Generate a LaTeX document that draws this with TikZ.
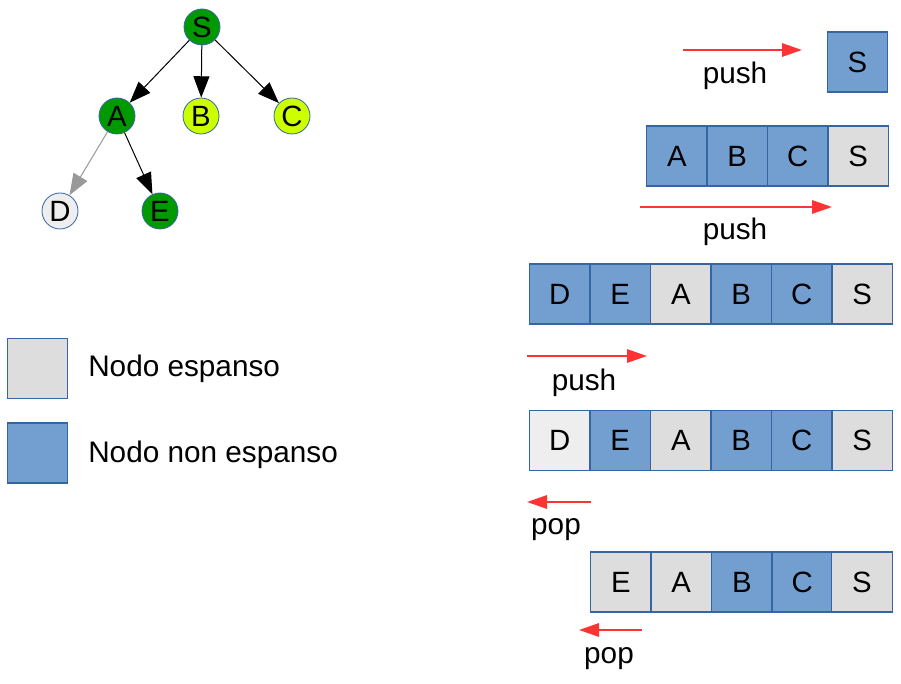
\documentclass[tikz,border=0pt]{standalone}
\usepackage{fontspec}
\setmainfont{Liberation Sans}
\usetikzlibrary{arrows.meta}
\definecolor{dgreen}{HTML}{009900}
\definecolor{ygreen}{HTML}{CCFF00}
\definecolor{lgray}{HTML}{EEEEEE}
\definecolor{cgray}{HTML}{DDDDDD}
\definecolor{cblue}{HTML}{729FCF}
\definecolor{bord}{HTML}{3465A4}
\definecolor{pred}{HTML}{FF3333}
\tikzset{
  tnode/.style={circle,draw=bord,line width=0.6pt,minimum size=27pt,inner sep=0pt,font=\fontsize{22}{24}\selectfont},
  tarrow/.style={line width=0.75pt,-{Triangle[length=16pt,width=12pt]}},
  cell/.style={rectangle,draw=bord,line width=0.8pt,minimum width=45.2pt,minimum height=45pt,inner sep=0pt,font=\fontsize{22}{24}\selectfont},
  ex/.style={cell,fill=cgray},
  ne/.style={cell,fill=cblue},
  lt/.style={cell,fill=lgray},
  parrow/.style={pred,line width=1.5pt,-{Triangle[length=15pt,width=10pt]}},
  lab/.style={font=\fontsize{22.3}{25}\selectfont,inner sep=0pt},
}
\begin{document}
\begin{tikzpicture}[x=0.75pt,y=-0.75pt]
\useasboundingbox (0,0) rectangle (901,684);
% tree
\node[tnode,fill=dgreen] (S) at (202,27) {S};
\node[tnode,fill=dgreen] (A) at (117,116) {A};
\node[tnode,fill=ygreen] (B) at (201,116) {B};
\node[tnode,fill=ygreen] (C) at (292,116) {C};
\node[tnode,fill=lgray] (D) at (60,211) {D};
\node[tnode,fill=dgreen] (E) at (160,211) {E};
\draw[tarrow] (S) -- (A);
\draw[tarrow] (S) -- (B);
\draw[tarrow] (S) -- (C);
\draw[tarrow,draw=black!40,fill=black!40] (A) -- (D);
\draw[tarrow] (A) -- (E);
% legend
\node[ex,minimum width=45.5pt,minimum height=45.5pt] (L1) at (37.5,368.5) {};
\node[ne] (L2) at (37.5,453) {};
\node[lab,anchor=base west] (L1t) at (88,377) {Nodo espanso};
\node[lab,anchor=base west] (L2t) at (88,463) {Nodo non espanso};
% row 1
\node[ne] (r1s) at (857.5,62) {S};
\coordinate (p1a) at (683,50);
\coordinate (p1b) at (802,50);
\draw[parrow] (p1a) -- (p1b);
\node[lab] (p1t) at (735,76) {push};
% row 2
\node[ne] (r2a) at (676.8,156) {A};
\node[ne] (r2b) at (737.2,156) {B};
\node[ne] (r2c) at (797.8,156) {C};
\node[ex] (r2s) at (858.2,156) {S};
\coordinate (p2a) at (640,207);
\coordinate (p2b) at (832,207);
\draw[parrow] (p2a) -- (p2b);
\node[lab] (p2t) at (735,232) {push};
% row 3
\node[ne] (r3d) at (559.8,294) {D};
\node[ne] (r3e) at (620.2,294) {E};
\node[ex] (r3a) at (680.8,294) {A};
\node[ne] (r3b) at (741.2,294) {B};
\node[ne] (r3c) at (801.8,294) {C};
\node[ex] (r3s) at (862.2,294) {S};
\coordinate (p3a) at (527,356);
\coordinate (p3b) at (647,356);
\draw[parrow] (p3a) -- (p3b);
\node[lab] (p3t) at (584,383) {push};
% row 4
\node[lt] (r4d) at (559.8,440.5) {D};
\node[ne] (r4e) at (620.2,440.5) {E};
\node[ex] (r4a) at (680.8,440.5) {A};
\node[ne] (r4b) at (741.2,440.5) {B};
\node[ne] (r4c) at (801.8,440.5) {C};
\node[ex] (r4s) at (862.2,440.5) {S};
\coordinate (q1a) at (591,502);
\coordinate (q1b) at (527,502);
\draw[parrow] (q1a) -- (q1b);
\node[lab] (q1t) at (556,530) {pop};
% row 5
\node[ex] (r5e) at (620.8,582) {E};
\node[ex] (r5a) at (681.2,582) {A};
\node[ne] (r5b) at (741.8,582) {B};
\node[ne] (r5c) at (802.2,582) {C};
\node[ex] (r5s) at (862.0,582) {S};
\coordinate (q2a) at (642,630);
\coordinate (q2b) at (579,630);
\draw[parrow] (q2a) -- (q2b);
\node[lab] (q2t) at (609,659) {pop};
\end{tikzpicture}
\end{document}
